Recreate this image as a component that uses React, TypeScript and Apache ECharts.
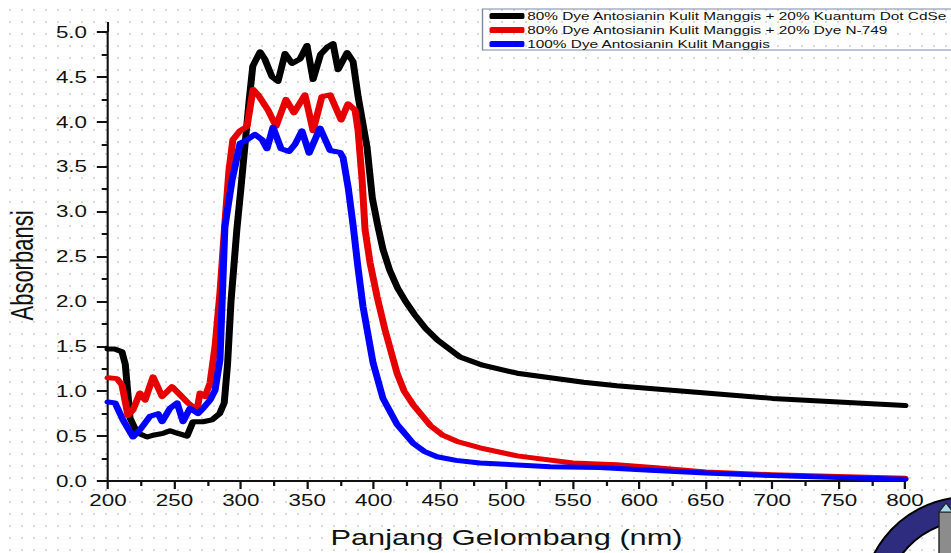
import React, { useEffect, useRef } from "react";
import * as echarts from "echarts";

// ---- data (wavelength nm / absorbance) ----
const seriesNames = [
  "80% Dye Antosianin Kulit Manggis + 20% Kuantum Dot CdSe",
  "80% Dye Antosianin Kulit Manggis + 20% Dye N-749",
  "100% Dye Antosianin Kulit Manggis",
];
const seriesColors = ["#000000", "#e60000", "#0000ff"];

const cdseNm = [200, 205, 210.5, 213, 216.6, 221.8, 229.4, 233.9, 241.4, 246.7, 252.7, 259.5, 264, 271.5, 278.3, 284, 287.5, 290, 292.6, 297, 300, 303, 306, 309, 314.5, 318, 323.5, 328, 333.3, 338.5, 344.6, 349.8, 354.4, 360, 365, 369.4, 373.2, 380, 384.5, 388.3, 395, 399, 403, 407, 412, 418, 424, 431, 439, 448, 465, 482, 508, 533, 558, 583, 608, 650, 700, 750, 800];
const cdseAbs = [1.47, 1.47, 1.44, 1.3, 0.7, 0.54, 0.49, 0.51, 0.53, 0.56, 0.53, 0.5, 0.66, 0.66, 0.68, 0.75, 0.87, 1.3, 2.0, 2.8, 3.25, 3.72, 4.2, 4.62, 4.78, 4.7, 4.5, 4.45, 4.76, 4.65, 4.7, 4.85, 4.47, 4.75, 4.83, 4.87, 4.58, 4.77, 4.67, 4.28, 3.72, 3.15, 2.85, 2.58, 2.35, 2.15, 2.0, 1.85, 1.7, 1.57, 1.38, 1.29, 1.2, 1.15, 1.1, 1.06, 1.03, 0.98, 0.92, 0.88, 0.84];

const n749Nm = [200, 206.8, 210.5, 215, 218.8, 224, 227.9, 233.9, 240.7, 248.2, 254.2, 260.2, 267, 269.3, 273, 276.8, 280.6, 284.3, 288, 291, 294, 299.4, 304.7, 309.2, 313, 320.5, 326.5, 334, 340, 348.3, 354.4, 361, 367.2, 375.5, 380.7, 386, 388.3, 391.3, 393.5, 397.3, 402.6, 408.6, 417.6, 423, 429.7, 442.5, 452, 462.8, 480, 508, 550, 583, 610, 650, 700, 750, 800];
const n749Abs = [1.15, 1.14, 1.07, 0.73, 0.79, 0.98, 0.9, 1.16, 0.94, 1.05, 0.96, 0.87, 0.79, 0.98, 0.94, 1.09, 1.5, 2.1, 2.87, 3.45, 3.8, 3.9, 3.95, 4.36, 4.3, 4.13, 3.95, 4.25, 4.1, 4.3, 3.9, 4.28, 4.3, 4.02, 4.2, 4.13, 3.9, 3.35, 2.8, 2.43, 2.05, 1.68, 1.2, 1.0, 0.85, 0.62, 0.51, 0.44, 0.37, 0.28, 0.2, 0.18, 0.15, 0.1, 0.07, 0.05, 0.03];

const pureNm = [200, 205.3, 211.3, 218.8, 224, 231.6, 237.7, 240.7, 246.7, 252, 256.5, 261.7, 267.8, 271.5, 276.8, 280.6, 284.3, 288, 293.4, 299.4, 304.7, 310.7, 316, 319.7, 324.2, 330.3, 336.3, 340.8, 346, 351.4, 359.6, 367.2, 374.7, 377, 381, 384.5, 388, 392, 399.5, 407, 417.6, 429.7, 438, 447.7, 462, 480, 533, 570, 608, 650, 700, 750, 800];
const pureAbs = [0.88, 0.87, 0.68, 0.49, 0.57, 0.72, 0.75, 0.66, 0.81, 0.87, 0.66, 0.81, 0.75, 0.81, 0.9, 1.01, 1.35, 2.83, 3.35, 3.76, 3.8, 3.86, 3.8, 3.7, 3.94, 3.7, 3.67, 3.75, 3.9, 3.65, 3.93, 3.68, 3.66, 3.6, 3.25, 2.85, 2.4, 1.94, 1.32, 0.92, 0.63, 0.42, 0.33, 0.27, 0.23, 0.2, 0.16, 0.15, 0.12, 0.09, 0.06, 0.04, 0.02];

const xMin = 200, xMax = 800, xStep = 50;
const yMin = 0, yMax = 5, yStep = 0.5;
const xTitle = "Panjang Gelombang (nm)";
const yTitle = "Absorbansi";

// ---- layout (chart drawn at IN_W and stretched horizontally, like the reference) ----
const OUT_W = 951;
const H = 553;
const IN_W = 680;
const SX = OUT_W / IN_W;
const GRID_LEFT = 108 / SX;
const GRID_RIGHT = IN_W - 905 / SX;
const GRID_TOP = 32;
const GRID_BOTTOM = 72;
const FONT = "'Liberation Sans', Arial, Helvetica, sans-serif";
const INK = "#111111";

const zip = (xs: number[], ys: number[]) => xs.map((x, i) => [x, ys[i]]);

export default function App() {
  const ref = useRef<HTMLDivElement>(null);

  useEffect(() => {
    if (!ref.current) return;
    const chart = echarts.init(ref.current, null, { renderer: "svg" });
    const datasets = [zip(cdseNm, cdseAbs), zip(n749Nm, n749Abs), zip(pureNm, pureAbs)];
    chart.setOption({
      animation: false,
      backgroundColor: "transparent",
      textStyle: { fontFamily: FONT },
      grid: {
        left: GRID_LEFT,
        right: GRID_RIGHT,
        top: GRID_TOP,
        bottom: GRID_BOTTOM,
        containLabel: false,
        outerBoundsMode: "none",
      },
      legend: {
        orient: "vertical",
        left: 345,
        top: 9,
        padding: [1, 12, 0, 5],
        itemGap: 2,
        itemWidth: 25,
        itemHeight: 6,
        icon: "roundRect",
        borderColor: "#7d88a6",
        borderWidth: 1,
        borderRadius: 0,
        textStyle: { fontFamily: FONT, fontSize: 11, color: INK, lineHeight: 12, padding: [0, 0, 0, -3] },
        data: seriesNames,
      },
      xAxis: {
        type: "value",
        min: xMin,
        max: xMax,
        interval: xStep,
        name: xTitle,
        nameLocation: "middle",
        nameGap: 46,
        nameTextStyle: { fontFamily: FONT, fontSize: 22, color: INK },
        axisLine: { show: true, onZero: false, lineStyle: { color: INK, width: 2 } },
        axisTick: { show: true, inside: false, length: 8, lineStyle: { color: INK, width: 1.6 } },
        minorTick: { show: true, splitNumber: 2, length: 5, lineStyle: { color: INK, width: 1.6 } },
        axisLabel: { fontFamily: FONT, fontSize: 16, color: INK, margin: 11 },
        splitLine: { show: false },
        minorSplitLine: { show: false },
      },
      yAxis: {
        type: "value",
        min: yMin,
        max: yMax,
        interval: yStep,
        name: yTitle,
        nameLocation: "middle",
        nameGap: 50,
        nameRotate: 90,
        nameTextStyle: { fontFamily: FONT, fontSize: 22, color: INK, padding: [0, 18, 0, 0] },
        axisLine: { show: true, onZero: false, lineStyle: { color: INK, width: 1.5 } },
        axisTick: { show: true, inside: false, length: 8, lineStyle: { color: INK, width: 2 } },
        minorTick: { show: true, splitNumber: 2, length: 4.5, lineStyle: { color: INK, width: 2 } },
        axisLabel: {
          fontFamily: FONT,
          fontSize: 16,
          color: INK,
          margin: 15,
          formatter: (v: number) => v.toFixed(1),
        },
        splitLine: { show: false },
        minorSplitLine: { show: false },
      },
      series: datasets.map((d, i) => ({
        name: seriesNames[i],
        type: "line",
        data: d,
        showSymbol: false,
        symbol: "none",
        smooth: false,
        color: seriesColors[i],
        lineStyle: { color: seriesColors[i], width: 5, cap: "round", join: "round" },
        z: 2 + i,
      })),
      graphic: [
        {
          type: "line",
          shape: { x1: GRID_LEFT, y1: 22, x2: GRID_LEFT, y2: GRID_TOP },
          style: { stroke: INK, lineWidth: 1.5 },
          silent: true,
        },
        {
          type: "sector",
          x: 968 / SX,
          y: 603,
          scaleX: 1 / SX,
          shape: { cx: 0, cy: 0, r: 106, r0: 82, startAngle: (-165 * Math.PI) / 180, endAngle: (-70 * Math.PI) / 180, clockwise: true },
          style: { fill: "#2e2c7e", stroke: "#000", lineWidth: 2 },
          silent: true,
        },
        {
          type: "rect",
          shape: { x: 939 / SX, y: 512, width: 14 / SX, height: 45 },
          style: { fill: "#8c8c8c", stroke: "#222", lineWidth: 1 },
          silent: true,
        },
        {
          type: "polygon",
          shape: { points: [[939 / SX, 512], [946 / SX, 503], [953 / SX, 512]] },
          style: { fill: "#a8dbe8", stroke: "#222", lineWidth: 1 },
          silent: true,
        },
      ],
    });
    return () => chart.dispose();
  }, []);

  return (
    <div
      style={{
        position: "fixed",
        left: 0,
        top: 0,
        width: OUT_W,
        height: H,
        overflow: "hidden",
        background: "#ffffff",
        backgroundImage: "radial-gradient(circle, #d9d9d9 0.9px, rgba(255,255,255,0) 1.3px)",
        backgroundSize: "12px 12px",
        backgroundPosition: "4px 4px",
      }}
    >
      <div
        ref={ref}
        style={{
          width: IN_W,
          height: H,
          transform: `scaleX(${SX})`,
          transformOrigin: "0 0",
        }}
      />
    </div>
  );
}
